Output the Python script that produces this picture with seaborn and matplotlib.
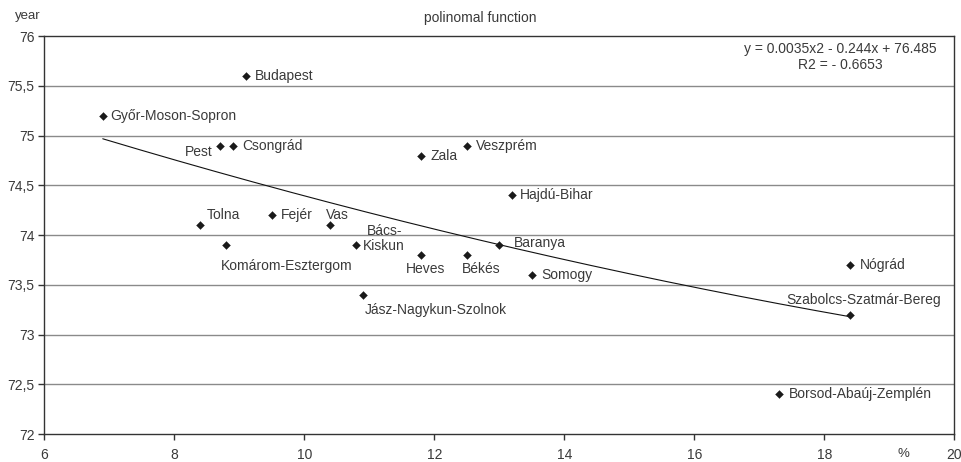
import numpy as np
import pandas as pd
import matplotlib
matplotlib.use("Agg")
import matplotlib.pyplot as plt
import seaborn as sns

# ---- data ----
counties = ["Győr-Moson-Sopron", "Budapest", "Pest", "Csongrád", "Zala", "Veszprém",
            "Hajdú-Bihar", "Tolna", "Fejér", "Vas", "Bács-\nKiskun", "Komárom-Esztergom",
            "Heves", "Békés", "Baranya", "Somogy", "Nógrád", "Szabolcs-Szatmár-Bereg",
            "Jász-Nagykun-Szolnok", "Borsod-Abaúj-Zemplén"]
pct = [6.9, 9.1, 8.7, 8.9, 11.8, 12.5, 13.2, 8.4, 9.5, 10.4, 10.8, 8.8,
       11.8, 12.5, 13.0, 13.5, 18.4, 18.4, 10.9, 17.3]
years = [75.2, 75.6, 74.9, 74.9, 74.8, 74.9, 74.4, 74.1, 74.2, 74.1, 73.9, 73.9,
         73.8, 73.8, 73.9, 73.6, 73.7, 73.2, 73.4, 72.4]
trend_coeffs = [0.0035, -0.244, 76.485]   # as printed on the chart
x_ticks = [6, 8, 10, 12, 14, 16, 18, 20]
y_ticks = [72, 72.5, 73, 73.5, 74, 74.5, 75, 75.5, 76]

# label placement: (dx px, dy px, ha, va)
label_pos = {
    "Győr-Moson-Sopron": (7, 0, "left", "center"),
    "Budapest": (9, 0, "left", "center"),
    "Pest": (-7, -6, "right", "center"),
    "Csongrád": (9, 0, "left", "center"),
    "Zala": (9, 0, "left", "center"),
    "Veszprém": (9, 0, "left", "center"),
    "Hajdú-Bihar": (8, 0, "left", "center"),
    "Tolna": (6, 10, "left", "center"),
    "Fejér": (9, 0, "left", "center"),
    "Vas": (-4, 10, "left", "center"),
    "Bács-\nKiskun": (7, 7, "left", "center"),
    "Komárom-Esztergom": (60, -21, "center", "center"),
    "Heves": (4, -14, "center", "center"),
    "Békés": (14, -14, "center", "center"),
    "Baranya": (15, 2, "left", "center"),
    "Somogy": (10, 0, "left", "center"),
    "Nógrád": (10, 0, "left", "center"),
    "Szabolcs-Szatmár-Bereg": (13, 15, "center", "center"),
    "Jász-Nagykun-Szolnok": (2, -15, "left", "center"),
    "Borsod-Abaúj-Zemplén": (10, 0, "left", "center"),
}

df = pd.DataFrame({"county": counties, "pct": pct, "year": years})

sns.set_theme(style="white")
plt.rcParams["font.family"] = ["Liberation Sans", "DejaVu Sans"]

fig = plt.figure(figsize=(9.62, 4.62), dpi=100)
ax = fig.add_axes([0.046, 0.06, 0.946, 0.862])

text_col = "#3a3a3a"

# grid
for yv in y_ticks[1:-1]:
    ax.axhline(yv, color="#8a8a8a", lw=1.0, zorder=0)

# trend line
xs = np.linspace(min(pct), max(pct), 200)
ax.plot(xs, np.polyval(trend_coeffs, xs), color="#111111", lw=0.8, zorder=2)

sns.scatterplot(data=df, x="pct", y="year", marker="D", s=16, color="#1a1a1a",
                edgecolor="#1a1a1a", linewidth=0.3, ax=ax, zorder=3, legend=False)

for name, x, y in zip(counties, pct, years):
    dx, dy, ha, va = label_pos[name]
    ax.annotate(name, (x, y), xytext=(dx, dy), textcoords="offset pixels",
                ha=ha, va=va, fontsize=10, color=text_col,
                multialignment="center", linespacing=1.1)

ax.set_xlim(6, 20)
ax.set_ylim(72, 76)
ax.set_xticks(x_ticks)
ax.set_xticklabels([str(v) for v in x_ticks])
ax.set_yticks(y_ticks)
ax.set_yticklabels([("%g" % v).replace(".", ",") for v in y_ticks])
ax.tick_params(axis="both", direction="out", length=4, width=1, color="#333333",
               labelsize=10, labelcolor=text_col, pad=3)
ax.tick_params(axis="x", bottom=True, pad=6)
ax.tick_params(axis="y", left=True)
ax.set_xlabel("")
ax.set_ylabel("")
for sp in ax.spines.values():
    sp.set_color("#333333")
    sp.set_linewidth(1.0)

fig.text(480 / 962, 1 - 18 / 462, "polinomal function", ha="center", va="center",
         fontsize=10, color=text_col)
fig.text(15 / 962, 1 - 16 / 462, "year", ha="left", va="center",
         fontsize=9.5, color=text_col)
fig.text(903 / 962, 1 - 454 / 462, "%", ha="center", va="center",
         fontsize=9.5, color=text_col)
ax.annotate("y = 0.0035x2 - 0.244x + 76.485\nR2 = - 0.6653", xy=(840 / 962, 1 - 57 / 462),
            xycoords="figure fraction", ha="center", va="center", fontsize=10,
            color=text_col, multialignment="center", linespacing=1.1)

fig.savefig("out.png", dpi=100)
